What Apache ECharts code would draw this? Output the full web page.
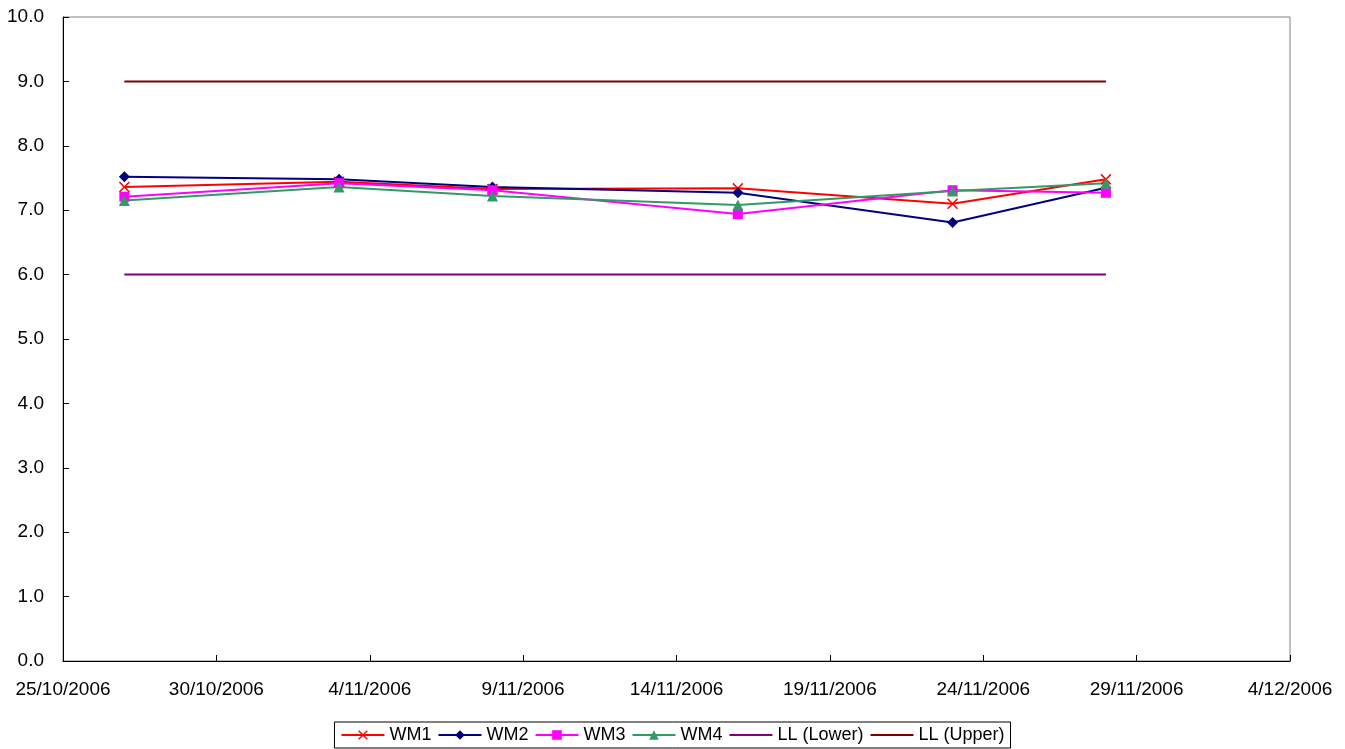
<!DOCTYPE html>
<html>
<head>
<meta charset="utf-8">
<script src="https://cdn.jsdelivr.net/npm/echarts@6/dist/echarts.min.js"></script>
<style>
  html, body { margin: 0; padding: 0; background: #fff; }
  #chart { width: 1345px; height: 749px; }
</style>
</head>
<body>
<div id="chart"></div>
<script>
// sampling dates and readings
var dates = ['2006-10-27', '2006-11-03', '2006-11-08', '2006-11-16', '2006-11-23', '2006-11-28'];
var wm1 = [7.36, 7.44, 7.33, 7.34, 7.10, 7.48];
var wm2 = [7.52, 7.48, 7.36, 7.27, 6.81, 7.35];
var wm3 = [7.21, 7.42, 7.31, 6.94, 7.31, 7.27];
var wm4 = [7.15, 7.36, 7.22, 7.08, 7.30, 7.42];
var llLower = [6.0, 6.0, 6.0, 6.0, 6.0, 6.0];
var llUpper = [9.0, 9.0, 9.0, 9.0, 9.0, 9.0];

var startDate = Date.UTC(2006, 9, 25);
var DAY = 86400000;

function dayOffset(s) {
    var p = s.split('-');
    return Math.round((Date.UTC(+p[0], +p[1] - 1, +p[2]) - startDate) / DAY);
}
function pairs(vals) {
    return vals.map(function (v, i) { return [dayOffset(dates[i]), v]; });
}

var crossPath = 'path://M0,1 L1,0 L5,4 L9,0 L10,1 L6,5 L10,9 L9,10 L5,6 L1,10 L0,9 L4,5 Z';

var myChart = echarts.init(document.getElementById('chart'));

function mk(name, data, color, symbol, size) {
    return {
        name: name,
        type: 'line',
        data: pairs(data),
        symbol: symbol,
        symbolSize: size,
        showSymbol: symbol !== 'none',
        lineStyle: { color: color, width: 2 },
        itemStyle: { color: color },
        emphasis: { disabled: true },
        animation: false
    };
}

var option = {
    textStyle: { fontFamily: 'Liberation Sans, Arial, sans-serif' },
    grid: {
        left: 63, right: 55, top: 17, bottom: 88,
        show: true, borderColor: '#808080', borderWidth: 1
    },
    legend: {
        bottom: 1,
        left: 'center',
        itemWidth: 43,
        itemHeight: 12,
        itemGap: 6,
        padding: [4, 6],
        borderColor: '#000',
        borderWidth: 1,
        textStyle: { fontSize: 18, color: '#000' },
        data: [
            'WM1', 'WM2', 'WM3', 'WM4',
            { name: 'LL (Lower)', itemStyle: { opacity: 0 } },
            { name: 'LL (Upper)', itemStyle: { opacity: 0 } }
        ]
    },
    xAxis: {
        type: 'value',
        min: 0, max: 40, interval: 5,
        axisLine: { lineStyle: { color: '#000', width: 1 } },
        axisTick: { inside: true, length: 6, lineStyle: { color: '#000' } },
        splitLine: { show: false },
        axisLabel: {
            fontSize: 19, color: '#000', margin: 19,
            formatter: function (v) {
                var d = new Date(startDate + v * DAY);
                return d.getUTCDate() + '/' + (d.getUTCMonth() + 1) + '/' + d.getUTCFullYear();
            }
        }
    },
    yAxis: {
        type: 'value',
        min: 0, max: 10, interval: 1,
        axisLine: { show: true, lineStyle: { color: '#000', width: 1 } },
        axisTick: { show: true, inside: true, length: 6, lineStyle: { color: '#000' } },
        splitLine: { show: false },
        axisLabel: {
            fontSize: 19, color: '#000', margin: 19,
            formatter: function (v) { return v.toFixed(1); }
        }
    },
    series: [
        mk('WM1', wm1, '#FF0000', crossPath, 11),
        mk('WM2', wm2, '#000080', 'diamond', 11),
        mk('WM3', wm3, '#FF00FF', 'rect', 10),
        mk('WM4', wm4, '#339966', 'triangle', 11),
        mk('LL (Lower)', llLower, '#800080', 'none', 0),
        mk('LL (Upper)', llUpper, '#800000', 'none', 0)
    ]
};

myChart.setOption(option);
</script>
</body>
</html>
